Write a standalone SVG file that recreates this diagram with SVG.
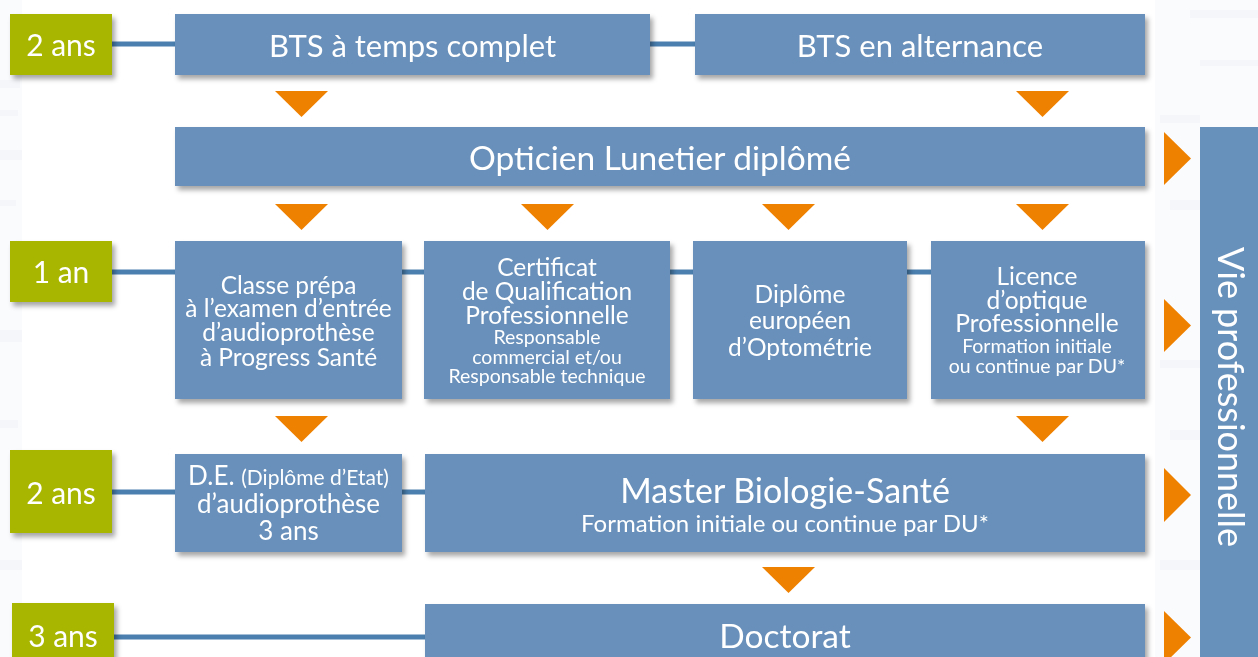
<svg xmlns="http://www.w3.org/2000/svg" width="1258" height="657" viewBox="0 0 1258 657">
<defs>
<filter id="sh" x="-10%" y="-20%" width="130%" height="150%">
<feDropShadow dx="3" dy="4" stdDeviation="2.5" flood-color="#000" flood-opacity="0.35"/>
</filter>
<style>
.box{fill:#6790BA;filter:url(#sh)}
.yr{fill:#A9B600;filter:url(#sh)}
.arr{fill:#EF8100}
.ln{stroke:#4A7FAF;stroke-width:5;fill:none}
text{font-family:Lato,"Open Sans","Liberation Sans",sans-serif;fill:#fff;text-anchor:middle}
.yl{font-size:30px}
.big{font-size:31px}
.xl{font-size:33.5px}
.mid{font-size:24.5px}
.sm{font-size:19.5px}
.bg{fill:#dfe5ee}
</style>
</defs>
<rect width="1258" height="657" fill="#fff"/>
<g id="background" opacity="0.5">
<rect class="bg" x="0" y="0" width="22" height="657" opacity="0.3"/>
<rect class="bg" x="0" y="80" width="20" height="8" opacity="0.6"/>
<rect class="bg" x="0" y="110" width="18" height="6" opacity="0.6"/>
<rect class="bg" x="0" y="150" width="22" height="10" opacity="0.5"/>
<rect class="bg" x="0" y="200" width="16" height="6" opacity="0.6"/>
<rect class="bg" x="0" y="330" width="22" height="12" opacity="0.5"/>
<rect class="bg" x="0" y="420" width="18" height="8" opacity="0.6"/>
<rect class="bg" x="0" y="560" width="22" height="10" opacity="0.5"/>
<rect class="bg" x="1155" y="0" width="103" height="657" opacity="0.3"/>
<rect class="bg" x="1190" y="10" width="68" height="8" opacity="0.6"/>
<rect class="bg" x="1200" y="60" width="58" height="6" opacity="0.6"/>
<rect class="bg" x="1160" y="115" width="40" height="8" opacity="0.5"/>
<rect class="bg" x="1170" y="200" width="30" height="10" opacity="0.5"/>
<rect class="bg" x="1160" y="360" width="40" height="8" opacity="0.5"/>
<rect class="bg" x="1170" y="430" width="30" height="10" opacity="0.5"/>
<rect class="bg" x="1160" y="560" width="40" height="10" opacity="0.5"/>
</g>
<g id="connectors">
<line class="ln" x1="110" y1="44" x2="176" y2="44"/>
<line class="ln" x1="650" y1="44" x2="696" y2="44"/>
<line class="ln" x1="110" y1="272" x2="176" y2="272"/>
<line class="ln" x1="402" y1="272" x2="425" y2="272"/>
<line class="ln" x1="670" y1="272" x2="694" y2="272"/>
<line class="ln" x1="907" y1="272" x2="932" y2="272"/>
<line class="ln" x1="110" y1="492" x2="176" y2="492"/>
<line class="ln" x1="402" y1="492" x2="426" y2="492"/>
<line class="ln" x1="112" y1="637" x2="426" y2="637"/>
<polygon class="arr" points="275,91 328,91 301.5,117"/>
<polygon class="arr" points="1016,91 1069,91 1042.5,117"/>
<polygon class="arr" points="275,204 328,204 301.5,230"/>
<polygon class="arr" points="521,204 574,204 547.5,230"/>
<polygon class="arr" points="762,204 815,204 788.5,230"/>
<polygon class="arr" points="1016,204 1069,204 1042.5,230"/>
<polygon class="arr" points="275,416 328,416 301.5,442"/>
<polygon class="arr" points="1016,416 1069,416 1042.5,442"/>
<polygon class="arr" points="762,567 815,567 788.5,593"/>
<polygon class="arr" points="1164,132 1191,158.5 1164,185"/>
<polygon class="arr" points="1164,299 1191,325.5 1164,352"/>
<polygon class="arr" points="1164,468 1191,495 1164,522"/>
<polygon class="arr" points="1164,611 1191,637.5 1164,664"/>
</g>
<g id="y1"><rect class="yr" x="10" y="14" width="102" height="61"/><text class="yl" x="61" y="56">2 ans</text></g>
<g id="y2"><rect class="yr" x="10" y="241" width="102" height="61"/><text class="yl" x="61" y="283">1 an</text></g>
<g id="y3"><rect class="yr" x="10" y="450" width="102" height="83"/><text class="yl" x="61" y="504">2 ans</text></g>
<g id="y4"><rect class="yr" x="12" y="603" width="102" height="70"/><text class="yl" x="63" y="647">3 ans</text></g>
<g id="bts1"><rect class="box" x="175" y="14" width="475" height="61"/><text class="big" x="412.5" y="57">BTS à temps complet</text></g>
<g id="bts2"><rect class="box" x="695" y="14" width="450" height="61"/><text class="big" x="920" y="57">BTS en alternance</text></g>
<g id="opticien"><rect class="box" x="175" y="127" width="970" height="59"/><text class="xl" x="660" y="170">Opticien Lunetier diplômé</text></g>
<g id="classe"><rect class="box" x="175" y="241" width="227" height="158"/>
<text class="mid"><tspan x="288.5" y="294">Classe prépa</tspan><tspan x="288.5" y="317">à l’examen d’entrée</tspan><tspan x="288.5" y="341">d’audioprothèse</tspan><tspan x="288.5" y="366">à Progress Santé</tspan></text></g>
<g id="cqp"><rect class="box" x="424" y="241" width="246" height="158"/>
<text class="mid"><tspan x="547" y="276">Certificat</tspan><tspan x="547" y="300">de Qualification</tspan><tspan x="547" y="324">Professionnelle</tspan></text>
<text class="sm"><tspan x="547" y="344">Responsable</tspan><tspan x="547" y="364">commercial et/ou</tspan><tspan x="547" y="383">Responsable technique</tspan></text></g>
<g id="optometrie"><rect class="box" x="693" y="241" width="214" height="158"/>
<text class="mid"><tspan x="800" y="303">Diplôme</tspan><tspan x="800" y="329">européen</tspan><tspan x="800" y="356">d’Optométrie</tspan></text></g>
<g id="licence"><rect class="box" x="931" y="241" width="214" height="158"/>
<text class="mid"><tspan x="1037" y="285">Licence</tspan><tspan x="1037" y="309">d’optique</tspan><tspan x="1037" y="332">Professionnelle</tspan></text>
<text class="sm"><tspan x="1037" y="353">Formation initiale</tspan><tspan x="1037" y="373">ou continue par DU*</tspan></text></g>
<g id="de"><rect class="box" x="175" y="454" width="227" height="98"/>
<text style="font-size:26px"><tspan x="288.5" y="485">D.E. <tspan style="font-size:21px">(Diplôme d’Etat)</tspan></tspan><tspan x="288.5" y="513">d’audioprothèse</tspan><tspan x="288.5" y="540">3 ans</tspan></text></g>
<g id="master"><rect class="box" x="425" y="454" width="720" height="98"/>
<text style="font-size:34px"><tspan x="785" y="503">Master Biologie-Santé</tspan></text>
<text style="font-size:24px"><tspan x="785" y="532">Formation initiale ou continue par DU*</tspan></text></g>
<g id="doctorat"><rect class="box" x="425" y="604" width="720" height="70"/><text class="xl" x="785" y="648">Doctorat</text></g>
<g id="vie"><rect x="1200" y="127" width="70" height="540" fill="#6790BA"/><text style="font-size:36px" transform="translate(1218 397) rotate(90)" x="0" y="0">Vie professionnelle</text></g>
</svg>
